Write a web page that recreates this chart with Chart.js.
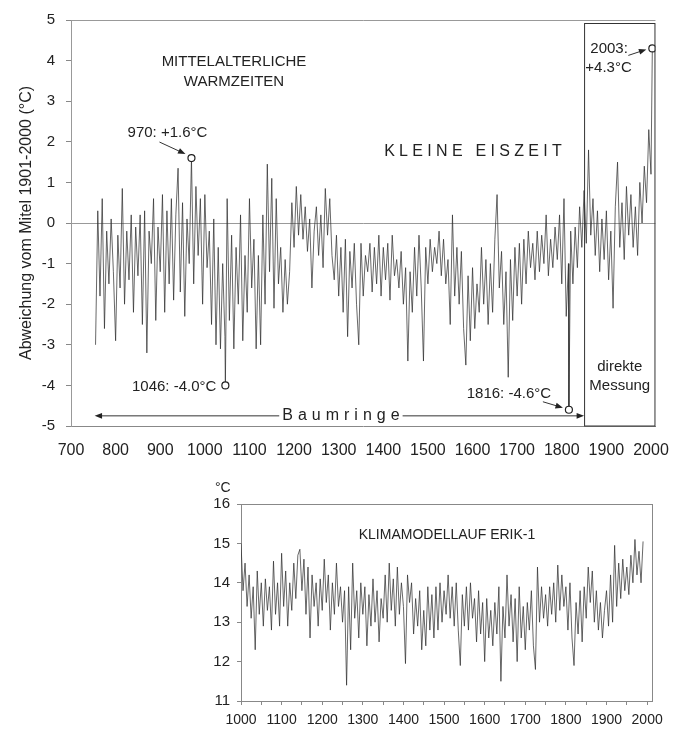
<!DOCTYPE html>
<html>
<head>
<meta charset="utf-8">
<script src="https://cdn.jsdelivr.net/npm/chart.js@4.4.0/dist/chart.umd.min.js"></script>
<style>
  body { margin: 0; background: #fff; }
  #wrap { position: relative; width: 684px; height: 729px; }
  #topChart { position: absolute; left: 0; top: 0; }
  #bottomChart { position: absolute; left: 0; top: 460px; }
</style>
</head>
<body>
<div id="wrap">
  <canvas id="topChart" width="684" height="460"></canvas>
  <canvas id="bottomChart" width="684" height="269"></canvas>
</div>
<script>
// --- Data: tree-ring reconstruction, anomaly vs. mean 1901-2000 (read every 5 years)
const reconStart = 755;
const reconStep = 5;
const reconValues = [
  -3.0, 0.3, -1.8, 0.6, -2.6, -0.2, -1.5, 0.1, -1.2,
  -2.9, -0.3, -1.6, 0.85, -2.0, -0.2, -1.4, 0.2, -2.2, -0.1,
  -1.3, 0.2, -2.5, 0.3, -3.2, -0.2, -1.0, 0.6, -2.4, -0.1,
  -1.2, 0.7, -2.2, 0.3, -1.5, 0.6, -1.9, 0.2, 1.35, -1.7,
  0.5, -2.3, 0.1, -1.0, 1.6, -1.5, 0.9, -0.8, 0.6, -2.0,
  0.7, -1.1, -0.2, -2.5, 0.1, -3.0, -0.6, -3.1, -1.0, -2.8,
  0.6, -2.4, -0.3, -3.1, -0.6, -2.0, 0.2, -2.9, -0.8, -2.2,
  0.6, -1.6, -0.4, -3.1, -0.8, -3.0, 0.2, -2.0, 1.45, -1.2,
  1.1, -2.1, 0.6, -1.5, -0.6, -2.2, -0.9, -2.0, -1.2, 0.5,
  -0.6, 0.9, -0.3, 0.7, -0.4, 0.4, -0.7, 0.1, -1.6, -0.2,
  0.4, -0.8, 0.2, -1.1, 0.85, -0.3, 0.6, -0.8, -1.4, -0.3,
  -1.8, -0.6, -2.2, -0.4, -2.8, -0.7, -1.6, -0.5, -2.0, -3.0,
  -0.5, -1.8, -0.8, -1.2, -0.5, -1.7, -0.6, -1.5, -0.3, -1.8,
  -0.6, -1.4, -0.5, -1.9, -0.3, -1.3, -0.9, -1.6, -0.7, -2.0,
  -1.1, -3.4, -1.2, -2.2, -0.6, -1.8, -0.3, -1.6, -3.4, -0.6,
  -1.5, -0.4, -1.2, -0.6, -1.0, -0.2, -1.3, -0.4, -1.5, -0.9,
  -2.5, 0.2, -1.8, -0.6, -2.0, -0.7, -2.6, -3.5, -1.3, -2.9,
  -1.1, -2.6, -1.5, -2.2, -0.6, -2.0, -0.9, -2.5, -1.0, -2.2,
  -0.4, 0.7, -1.6, -0.7, -2.5, -1.2, -3.8, -0.9, -2.4, -0.6,
  -1.8, -0.5, -2.0, -0.4, -1.5, -0.2, -1.1, -0.5, -1.4, -0.2,
  -1.2, -0.3, -1.0, 0.2, -1.3, -0.4, -1.1, -0.1, -0.9, 0.2,
  -1.5, 0.6, -2.3, -1.0, -0.2, -1.5, -0.1, -1.1, 0.4, -0.6,
  0.8, -0.5, 1.8, -0.3, 0.6, -0.8, 0.3, -1.2, 0.1, -0.9,
  0.3, -1.4, -0.2, -2.1, 0.4, 1.5, -0.6, 0.5, -0.9, 0.9,
  -0.3, 0.7, -0.6, 0.4, -0.8, 1.0, 0.0, 1.4, 0.5, 2.3,
  1.2
];
// marked extremes
const extremeYears = [970, 1046, 1816, 2003];
const extremeValues = [1.6, -4.0, -4.6, 4.3];
const measureFrom = 1850;   // start of direct measurements
const topTicks = [700, 800, 900, 1000, 1100, 1200, 1300, 1400, 1500, 1600, 1700, 1800, 1900, 2000];

// --- Data: model run ERIK-1, temperature in °C (read every 5 years)
const modelStart = 1000;
const modelStep = 5;
const modelValues = [
  15.0, 13.8, 14.5, 13.4, 14.2, 13.1, 13.9, 12.3, 14.3, 13.2,
  14.0, 12.9, 14.1, 13.3, 13.9, 12.8, 14.55, 13.2, 14.0, 12.9,
  14.75, 13.4, 14.3, 12.9, 14.0, 13.3, 14.5, 13.6, 14.7, 14.85,
  13.8, 14.6, 13.2, 14.4, 12.6, 14.2, 13.4, 14.0, 12.9, 14.1,
  13.3, 14.6, 13.5, 14.2, 12.8, 14.0, 13.2, 14.5, 13.4, 13.9,
  13.0, 13.8, 11.4, 13.9, 12.3, 14.5, 13.1, 13.8, 12.6, 14.0,
  13.2, 13.9, 12.4, 13.7, 12.9, 14.1, 13.0, 13.8, 12.5, 13.6,
  13.1, 14.2, 13.0, 14.5, 13.3, 14.1, 12.9, 14.4, 13.2, 14.0,
  13.4, 11.95, 14.2, 13.5, 14.0, 12.7, 13.6, 12.9, 13.8, 12.3,
  13.3, 12.4, 13.9, 12.8, 13.7, 12.6, 13.9, 12.8, 14.0, 13.0,
  13.8, 13.2, 14.2, 13.1, 13.9, 12.9, 14.0, 12.8, 11.9, 13.7,
  12.9, 13.9, 12.8, 14.0, 13.1, 13.6, 12.5, 13.8, 12.7, 13.5,
  12.0, 13.6, 12.6, 13.3, 12.4, 13.5, 12.7, 13.9, 11.5, 13.4,
  12.6, 14.2, 12.9, 13.7, 12.5, 13.6, 12.0, 13.9, 12.6, 13.4,
  12.3, 13.5, 12.8, 13.8, 12.4, 11.8, 14.4, 13.0, 13.9, 13.1,
  13.7, 12.9, 13.9, 13.2, 14.0, 13.0, 14.45, 13.3, 14.2, 13.4,
  13.9, 12.8, 14.0, 12.6, 11.9, 13.5, 12.7, 13.8, 12.5, 13.9,
  13.1, 14.4, 13.5, 14.3, 13.0, 13.8, 12.8, 13.5, 12.6, 13.3,
  13.8, 12.9, 14.2, 13.0, 14.95, 13.4, 14.5, 13.6, 14.6, 13.8,
  14.4, 13.7, 14.7, 14.0, 15.1, 14.2, 14.8, 14.0, 15.05
];
const bottomTicks = [1000, 1050, 1100, 1150, 1200, 1250, 1300, 1350, 1400, 1450, 1500,
  1550, 1600, 1650, 1700, 1750, 1800, 1850, 1900, 1950, 2000];

Chart.defaults.font.family = "'Liberation Sans', Arial, sans-serif";
Chart.defaults.color = '#222';
Chart.defaults.animation = false;

const FONT = "'Liberation Sans', Arial, sans-serif";
const LINE = 'rgba(45,45,45,0.9)';

// Build {x,y} points, putting the extremes in their place
function buildSeries(start, step, values, extraYears, extraValues) {
  const pts = values.map((v, i) => ({ x: start + i * step, y: v }));
  (extraYears || []).forEach((yr, i) => {
    const hit = pts.find(p => p.x === yr);
    if (hit) hit.y = extraValues[i];
    else pts.push({ x: yr, y: extraValues[i] });
  });
  return pts.sort((a, b) => a.x - b.x);
}

function arrow(ctx, x1, y1, x2, y2, head) {
  const a = Math.atan2(y2 - y1, x2 - x1);
  ctx.beginPath();
  ctx.moveTo(x1, y1);
  ctx.lineTo(x2 - Math.cos(a) * head * 0.7, y2 - Math.sin(a) * head * 0.7);
  ctx.stroke();
  ctx.beginPath();
  ctx.moveTo(x2, y2);
  ctx.lineTo(x2 - head * Math.cos(a - 0.38), y2 - head * Math.sin(a - 0.38));
  ctx.lineTo(x2 - head * Math.cos(a + 0.38), y2 - head * Math.sin(a + 0.38));
  ctx.closePath();
  ctx.fill();
}

// letter-spaced text, returns [start, end]
function spaced(ctx, text, cx, y, gap) {
  let w = 0;
  for (const ch of text) w += ctx.measureText(ch).width + gap;
  w -= gap;
  let x = cx - w / 2;
  const start = x;
  ctx.textAlign = 'left';
  for (const ch of text) {
    ctx.fillText(ch, x, y);
    x += ctx.measureText(ch).width + gap;
  }
  return [start, start + w];
}

// Annotations on the upper chart
const topNotes = {
  id: 'topNotes',
  afterDatasetsDraw(chart) {
    const { ctx, chartArea: ca, scales: { x, y } } = chart;
    const pt = (yr, v) => ({ x: x.getPixelForValue(yr), y: y.getPixelForValue(v) });
    ctx.save();
    ctx.strokeStyle = '#333';
    ctx.fillStyle = '#222';
    ctx.lineWidth = 1;
    ctx.textBaseline = 'middle';

    // box "direkte Messung"
    const bx = x.getPixelForValue(measureFrom);
    ctx.strokeRect(bx + 0.5, ca.top + 3.5, ca.right - bx - 1, ca.bottom - ca.top - 3.5);

    ctx.font = '15px ' + FONT;
    ctx.textAlign = 'center';
    ctx.fillText('MITTELALTERLICHE', 234, 62);
    ctx.fillText('WARMZEITEN', 234, 82);
    const mid = (bx + ca.right) / 2;
    ctx.fillText('direkte', mid, 367);
    ctx.fillText('Messung', mid, 386);

    ctx.font = '16px ' + FONT;
    spaced(ctx, 'KLEINE EISZEIT', 473, 152, 4.3);

    // extremes
    ctx.font = '15px ' + FONT;
    let p = pt(extremeYears[0], extremeValues[0]);
    ctx.textAlign = 'center';
    ctx.fillText('970: +1.6°C', p.x - 24, p.y - 25);
    arrow(ctx, p.x - 32, p.y - 16, p.x - 6, p.y - 4, 8);

    p = pt(extremeYears[1], extremeValues[1]);
    ctx.textAlign = 'right';
    ctx.fillText('1046: -4.0°C', p.x - 9, p.y + 1);

    p = pt(extremeYears[2], extremeValues[2]);
    ctx.textAlign = 'center';
    ctx.fillText('1816: -4.6°C', p.x - 60, p.y - 16);
    arrow(ctx, p.x - 26, p.y - 8, p.x - 6, p.y - 2, 8);

    p = pt(extremeYears[3], extremeValues[3]);
    ctx.textAlign = 'left';
    ctx.fillText('2003:', p.x - 62, p.y);
    ctx.fillText('+4.3°C', p.x - 67, p.y + 19);
    arrow(ctx, p.x - 24, p.y + 7, p.x - 6, p.y + 1, 8);

    // Baumringe arrows
    const yb = y.getPixelForValue(-4.75);
    ctx.font = '16px ' + FONT;
    const [s, e] = spaced(ctx, 'Baumringe', x.getPixelForValue(1305), yb, 5);
    arrow(ctx, s - 3, yb, x.getPixelForValue(753), yb, 8);
    arrow(ctx, e + 3, yb, bx, yb, 8);
    ctx.restore();
  }
};

// Annotations on the lower chart
const bottomNotes = {
  id: 'bottomNotes',
  beforeDatasetsDraw(chart) {
    const { ctx, chartArea: ca } = chart;
    ctx.save();
    ctx.strokeStyle = '#888';
    ctx.lineWidth = 1;
    ctx.strokeRect(ca.left + 0.5, ca.top + 0.5, ca.right - ca.left, ca.bottom - ca.top);
    ctx.restore();
  },
  afterDatasetsDraw(chart) {
    const { ctx } = chart;
    ctx.save();
    ctx.fillStyle = '#222';
    ctx.textBaseline = 'middle';
    ctx.font = '14px ' + FONT;
    ctx.textAlign = 'center';
    ctx.fillText('KLIMAMODELLAUF ERIK-1', 447, 75);
    ctx.textAlign = 'left';
    ctx.fillText('°C', 215, 28);
    ctx.restore();
  }
};

// Upper chart
new Chart(document.getElementById('topChart'), {
  type: 'line',
  data: {
    datasets: [
      {
        type: 'scatter',
        data: extremeYears.map((yr, i) => ({ x: yr, y: extremeValues[i] })),
        pointRadius: 3.5,
        pointBackgroundColor: '#fff',
        pointBorderColor: '#222',
        pointBorderWidth: 1.2,
        order: 0
      },
      {
        data: buildSeries(reconStart, reconStep, reconValues, extremeYears, extremeValues),
        borderColor: LINE,
        borderWidth: 0.8,
        pointRadius: 0,
        tension: 0,
        order: 1
      }
    ]
  },
  options: {
    responsive: false,
    layout: { padding: { left: 0, right: 27, top: 15, bottom: 0 } },
    plugins: { legend: { display: false }, tooltip: { enabled: false } },
    scales: {
      x: {
        type: 'linear',
        min: 700,
        max: 2010,
        afterBuildTicks: s => { s.ticks = topTicks.map(v => ({ value: v })); },
        afterFit: s => { s.height = 34; },
        grid: { drawOnChartArea: false, drawTicks: false },
        border: { color: '#888' },
        ticks: { font: { size: 16 }, padding: 15, maxRotation: 0, autoSkip: false, callback: v => String(v) }
      },
      y: {
        min: -5,
        max: 5,
        afterFit: s => { s.width = 71; },
        ticks: { stepSize: 1, font: { size: 15 }, padding: 11 },
        grid: {
          color: c => (c.tick && (c.tick.value === 0 || c.tick.value === 5)) ? '#999' : 'rgba(0,0,0,0)',
          tickColor: '#888',
          tickLength: 5
        },
        border: { color: '#999' },
        title: {
          display: true,
          text: 'Abweichung vom Mitel 1901-2000 (°C)',
          font: { size: 16 },
          padding: { top: 17, bottom: 0 }
        }
      }
    }
  },
  plugins: [topNotes]
});

// Lower chart
new Chart(document.getElementById('bottomChart'), {
  type: 'line',
  data: {
    datasets: [{
      data: buildSeries(modelStart, modelStep, modelValues),
      borderColor: LINE,
      borderWidth: 0.8,
      pointRadius: 0,
      tension: 0
    }]
  },
  options: {
    responsive: false,
    layout: { padding: { left: 201, right: 32, top: 44, bottom: 0 } },
    plugins: { legend: { display: false }, tooltip: { enabled: false } },
    scales: {
      x: {
        type: 'linear',
        min: 1000,
        max: 2012,
        afterBuildTicks: s => { s.ticks = bottomTicks.map(v => ({ value: v })); },
        afterFit: s => { s.height = 28; },
        grid: { drawOnChartArea: false, tickLength: 4, tickColor: '#888' },
        border: { color: '#888' },
        ticks: {
          font: { size: 14 },
          padding: 7,
          maxRotation: 0,
          autoSkip: false,
          callback: v => (v % 100 === 0 ? String(v) : '')
        }
      },
      y: {
        min: 11,
        max: 16,
        afterFit: s => { s.width = 40; },
        ticks: { stepSize: 1, font: { size: 15 }, padding: 7 },
        grid: { drawOnChartArea: false, tickLength: 4, tickColor: '#888' },
        border: { color: '#888' }
      }
    }
  },
  plugins: [bottomNotes]
});
</script>
</body>
</html>
